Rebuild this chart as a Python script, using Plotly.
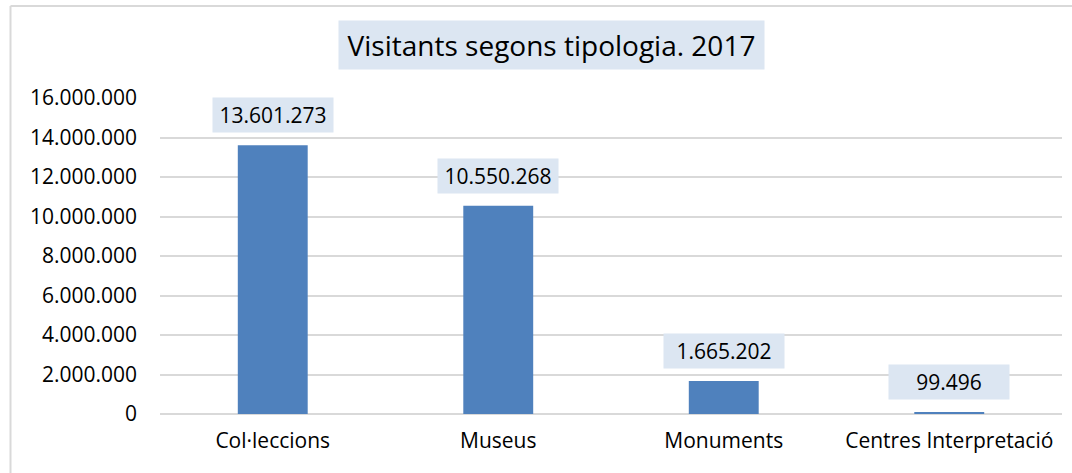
import plotly.graph_objects as go

categories = ["Col·leccions", "Museus", "Monuments", "Centres Interpretació"]
visitants = [13601273, 10550268, 1665202, 99496]
y_ticks = [0, 2000000, 4000000, 6000000, 8000000, 10000000, 12000000, 14000000, 16000000]
title_text = "Visitants segons tipologia. 2017"

def fmt(v):
    return f"{v:,}".replace(",", ".")

FONT = "Open Sans"
L, R, T, B = 160, 10, 98, 59
W, H = 1072, 473
pw, ph = W - L - R, H - T - B

def px(x):
    return (x - L) / pw

def py(y):
    return (H - B - y) / ph

fig = go.Figure()
fig.add_trace(go.Bar(
    x=categories, y=visitants,
    marker=dict(color="#4F81BD", line=dict(width=0)),
    width=0.31,
    hoverinfo="x+y",
))

annotations = []
for c, v in zip(categories, visitants):
    annotations.append(dict(
        x=c, y=v, xref="x", yref="y",
        text=fmt(v), showarrow=False,
        yanchor="bottom", yshift=12,
        width=118, height=32, bgcolor="#DCE6F2", borderpad=1,
        font=dict(family=FONT, size=21, color="#000000"),
    ))

annotations.append(dict(
    x=px(551.5), y=py(45), xref="paper", yref="paper",
    text=title_text, showarrow=False, xanchor="center", yanchor="middle",
    width=421, height=44, bgcolor="#DCE6F2", borderpad=2,
    font=dict(family=FONT, size=28, color="#000000"),
))

border = dict(color="#D9D9D9", width=2)
shapes = [
    dict(type="line", xref="paper", yref="paper", x0=px(10.5), x1=px(1080), y0=py(6), y1=py(6), line=border, layer="below"),
    dict(type="line", xref="paper", yref="paper", x0=px(10.5), x1=px(10.5), y0=py(6), y1=py(480), line=border, layer="below"),
]

fig.update_layout(
    width=W, height=H,
    margin=dict(l=L, r=R, t=T, b=B, pad=0),
    paper_bgcolor="white", plot_bgcolor="white",
    separators=",.",
    showlegend=False,
    annotations=annotations,
    shapes=shapes,
    bargap=0.69,
)
fig.update_xaxes(
    showgrid=False, showline=False, zeroline=False, ticks="",
    tickfont=dict(family=FONT, size=21, color="#000000"),
    ticklabelstandoff=12,
)
fig.update_yaxes(
    range=[0, 16000000], tickvals=y_ticks, tickformat=",d",
    showgrid=True, gridcolor="#D9D9D9", gridwidth=2,
    zeroline=True, zerolinecolor="#D9D9D9", zerolinewidth=2,
    showline=False, ticks="",
    tickfont=dict(family=FONT, size=21, color="#000000"),
    ticklabelstandoff=22,
)

fig.write_html(
    "out.html",
    config={"displayModeBar": False},
    post_script="document.body.style.margin='0';document.body.style.overflow='hidden';",
)
